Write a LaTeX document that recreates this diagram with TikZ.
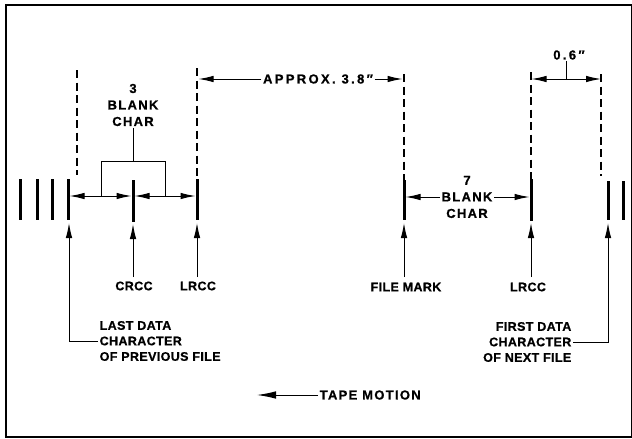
\documentclass[tikz,border=0pt]{standalone}
\usepackage{fontspec}
\usetikzlibrary{arrows.meta}
\newfontfamily\lblfont{Liberation Sans}[LetterSpace=3,FakeBold=0.8]
\newfontfamily\widefont{Liberation Sans}[LetterSpace=10,FakeBold=0.8]
\newfontfamily\xwidefont{Liberation Sans}[LetterSpace=18,FakeBold=0.8]
\begin{document}
\begin{tikzpicture}[x=1pt,y=-1pt,
  frame/.style={line width=1.8pt},
  bar/.style={line width=3pt},
  guide/.style={line width=1.2pt, dash pattern=on 8pt off 4.5pt},
  dim/.style={line width=1pt},
  tip/.style={-{Latex[length=15pt,width=6.5pt]}},
  bigtip/.style={-{Latex[length=19pt,width=7.5pt]}},
  lbl/.style={font=\lblfont\bfseries\fontsize{12.5}{15.5}\selectfont, inner sep=1.5pt, align=center},
  wlbl/.style={font=\widefont\bfseries\fontsize{13}{16.5}\selectfont, inner sep=1.5pt, align=center},
  xlbl/.style={font=\xwidefont\bfseries\fontsize{13}{16.5}\selectfont, inner sep=1.5pt, align=center}]
\useasboundingbox (0,0) rectangle (632,439);
\draw[frame] (6,5) rectangle (632,437);

% tape bars
\foreach \x in {20,37.5,52.5} \draw[bar] (\x,179) -- (\x,220);
\draw[bar] (68,179) -- (68,220);
\draw[bar] (133,180) -- (133,222);
\draw[bar] (197,179) coordinate (lr1t) -- (197,220);
\draw[bar] (404,180) coordinate (fmt) -- (404,220);
\draw[bar] (531,179) coordinate (lr2t) -- (531,221);
\draw[bar] (608,181) -- (608,220);
\draw[bar] (623,181) -- (623,220);

% dashed guides
\draw[guide] (77,70) -- (77,175);
\draw[guide] (197,68) -- (lr1t);
\draw[guide] (404,74) -- (fmt);
\draw[guide] (531,72) -- (lr2t);
\draw[guide] (601,74) -- (601,176);

% APPROX 3.8
\coordinate (a1) at (198.5,79);
\coordinate (a2) at (402.5,79);
\node[xlbl] (approx) at (318,79) {APPROX. 3.8″};
\draw[dim,tip] (approx.west) -- (a1);
\draw[dim,tip] (approx.east) -- (a2);

% 0.6
\coordinate (s1) at (531.5,79);
\coordinate (s2) at (601,79);
\coordinate (sm) at (566,79);
\draw[dim,{Latex[length=15pt,width=6.5pt]}-{Latex[length=15pt,width=6.5pt]}] (s1) -- (s2);
\node[xlbl] (six) at (569,55) {0.6″};
\draw[dim] (sm |- six.south) -- (sm);

% 3 BLANK CHAR
\node[wlbl] (b3) at (133,105) {3\\BLANK\\CHAR};
\coordinate (br) at (133,161);
\draw[dim] (b3.south) -- (br);
\coordinate (bl) at (101,196);
\coordinate (bR) at (165,196);
\draw[dim] (bl) -- (101,161) -- (165,161) -- (bR);
\draw[dim,tip] (bl) -- (69.5,196);
\draw[dim,tip] (bl) -- (131.5,196);
\draw[dim,tip] (bR) -- (134.5,196);
\draw[dim,tip] (bR) -- (195.5,196);

% 7 BLANK CHAR
\node[wlbl] (b7) at (467,197) {7\\BLANK\\CHAR};
\draw[dim,tip] (b7.west) -- (405.5,197);
\draw[dim,tip] (b7.east) -- (529.5,197);

% labels below
\node[lbl] (crcc) at (134,286) {CRCC};
\node[lbl] (lrcc1) at (198,286) {LRCC};
\node[lbl] (fm) at (406,287) {FILE MARK};
\node[lbl] (lrcc2) at (528,287) {LRCC};
\coordinate (t1) at (133,224);
\coordinate (t2) at (197,223);
\coordinate (t3) at (404,223);
\coordinate (t4) at (531,223);
\draw[dim,tip] (133,277) -- (t1);
\draw[dim,tip] (197,277) -- (t2);
\draw[dim,tip] (404,277) -- (t3);
\draw[dim,tip] (531,277) -- (t4);

\node[lbl, align=left, anchor=west] (ld) at (98,341) {LAST DATA\\CHARACTER\\OF PREVIOUS FILE};
\coordinate (t0) at (69,223);
\draw[dim,tip] (ld.west) -| (t0);

\node[lbl, align=right, anchor=east] (fd) at (573,342) {FIRST DATA\\CHARACTER\\OF NEXT FILE};
\coordinate (t5) at (608,223);
\draw[dim,tip] (fd.east) -| (t5);

% tape motion
\node[wlbl, anchor=west] (tm) at (318,395) {TAPE MOTION};
\coordinate (tmtip) at (257,395);
\draw[dim,bigtip] (tm.west) -- (tmtip);
\end{tikzpicture}
\end{document}
